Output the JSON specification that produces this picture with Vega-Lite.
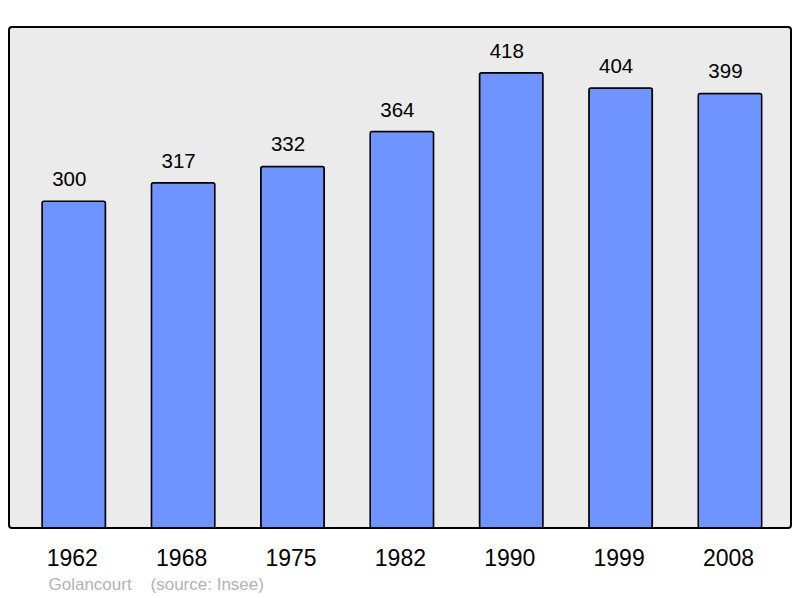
{
  "$schema": "https://vega.github.io/schema/vega-lite/v6.json",
  "width": 782,
  "height": 501,
  "autosize": "none",
  "padding": {"left": 9, "top": 27, "right": 9, "bottom": 70},
  "background": "white",
  "config": {
    "view": {"fill": "#ebebeb", "stroke": "#000000", "strokeWidth": 2, "cornerRadius": 3},
    "font": "Liberation Sans"
  },
  "data": {
    "values": [
      {"year": "1962", "pop": 300},
      {"year": "1968", "pop": 317},
      {"year": "1975", "pop": 332},
      {"year": "1982", "pop": 364},
      {"year": "1990", "pop": 418},
      {"year": "1999", "pop": 404},
      {"year": "2008", "pop": 399}
    ]
  },
  "encoding": {
    "x": {
      "field": "year",
      "type": "nominal",
      "sort": null,
      "scale": {"paddingInner": 0.42, "paddingOuter": 0.285, "align": 0.53},
      "axis": {
        "title": "Golancourt\u00a0\u00a0\u00a0\u00a0(source: Insee)",
        "titleFont": "Liberation Sans",
        "titleFontSize": 17,
        "titleFontWeight": "normal",
        "titleColor": "#b3b3b3",
        "titleAnchor": "start",
        "titleAlign": "left",
        "titleX": 39,
        "titleY": 61,
        "titleBaseline": "alphabetic",
        "labelAngle": 0,
        "labelFontSize": 23,
        "labelColor": "#000000",
        "labelBaseline": "alphabetic",
        "labelPadding": 37,
        "labelOffset": -1.5,
        "ticks": false,
        "domain": false,
        "grid": false
      }
    },
    "y": {
      "field": "pop",
      "type": "quantitative",
      "scale": {"domain": [0, 460], "nice": false},
      "axis": null
    }
  },
  "layer": [
    {
      "mark": {"type": "bar", "fill": "#7094ff", "stroke": "#000000", "strokeWidth": 1.5, "cornerRadius": 2}
    },
    {
      "mark": {"type": "text", "fontSize": 20.5, "color": "#000000", "baseline": "alphabetic", "dy": -15, "dx": -4.5},
      "encoding": {"text": {"field": "pop", "type": "quantitative"}}
    }
  ]
}
